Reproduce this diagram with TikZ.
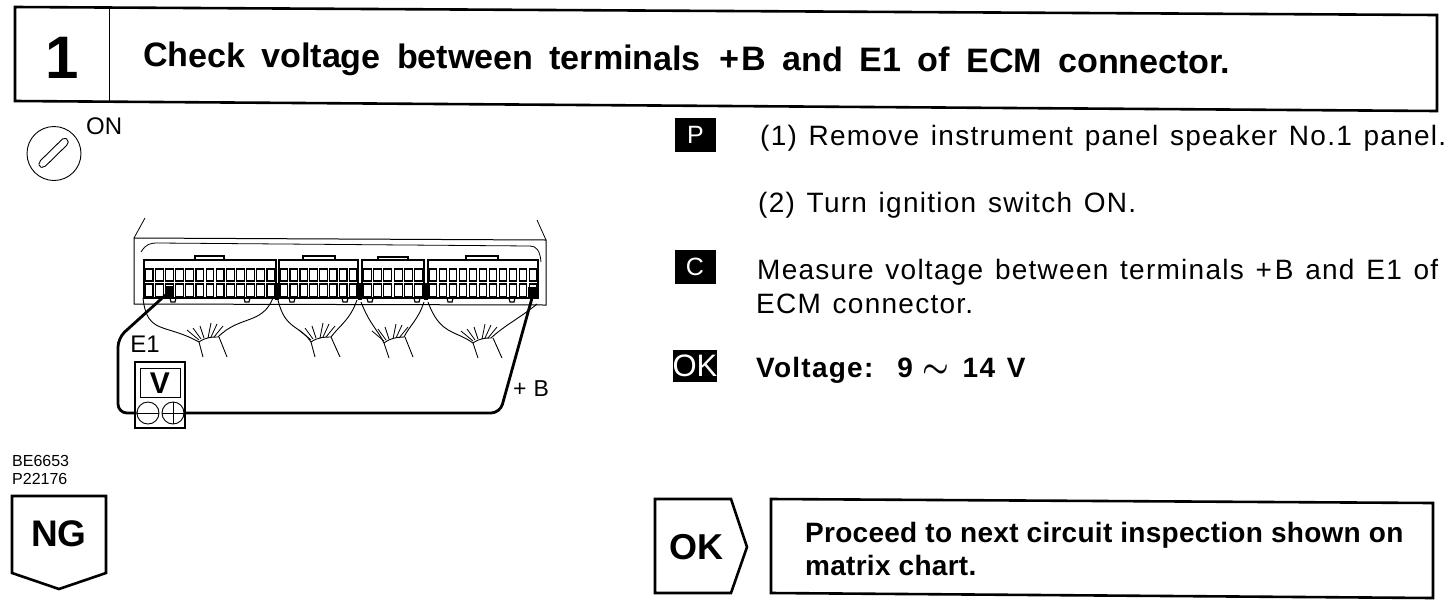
\documentclass[tikz,border=0pt]{standalone}
\usepackage{fontspec}
\setmainfont{Liberation Sans}
\newfontfamily\widefont[LetterSpace=4.5,WordSpace=1.3]{Liberation Sans}
\newfontfamily\slightfont[LetterSpace=1]{Liberation Sans}
\tikzset{
  x=1pt,y=-1pt,
  heavy/.style={draw=black,line width=2.6pt,line join=miter},
  medium/.style={draw=black,line width=1.6pt},
  thin line/.style={draw=black,line width=1pt},
  wire/.style={draw=black,line width=2.8pt,rounded corners=9pt},
  cable/.style={draw=black,line width=0.9pt},
  lead/.style={draw=black,line width=0.8pt},
  tagbox/.style={fill=black,text=white,inner sep=0pt,font=\fontsize{25}{25}\selectfont},
  body/.style={anchor=west,inner sep=0pt,font=\widefont\fontsize{28}{30}\selectfont,text=black},
  bodybold/.style={anchor=west,inner sep=0pt,font=\widefont\fontsize{28}{30}\selectfont\bfseries,text=black},
}
\begin{document}
\begin{tikzpicture}
\useasboundingbox (0,0) rectangle (1456,606);
% header
\draw[heavy] (15,7) -- (1437,15) -- (1437,111) -- (15,101) -- cycle;
\draw[thin line] (109,8) -- (109,101);
\node[inner sep=0pt,font=\fontsize{60}{60}\selectfont\bfseries] (num) at (62,58) {1};
\node[anchor=west,inner sep=0pt,rotate=-0.38,font=\fontsize{34}{36}\selectfont\bfseries] (title) at (143,58) {Check\hspace{7pt} voltage\hspace{7pt} between\hspace{7pt} terminals\hspace{9pt} +\hspace{3pt}B\hspace{7pt} and\hspace{7pt} E1\hspace{7pt} of\hspace{7pt} ECM\hspace{7pt} connector.};
% ignition symbol
\draw[line width=0.9pt] (54,153.5) circle (27);
\draw[line width=0.9pt,rounded corners=2pt] (39,162) -- (64,137.5) -- (68.5,140) -- (68,144) -- (44,167.5) -- (39,167) -- cycle;
\node[anchor=west,inner sep=0pt,font=\fontsize{24}{24}\selectfont] (on) at (86,126) {ON};
% ECM case
\draw[thin line] (134,304) -- (134,238) -- (546,240) -- (546,305) -- cycle;
\draw[lead] (134,238) -- (145,218);
\draw[lead] (546,240) -- (537,220);
\draw[lead] (141,252) .. controls (146,244) and (150,243) .. (158,243) -- (530,246) .. controls (536,246) and (540,250) .. (541,262);
% connector blocks
\foreach \xa/\xb/\n in {144/276/13,279/358/8,362/424/6,428/538/11}{
  \draw[medium] (\xa,298) -- (\xa,260) -- (\xb,260) -- (\xb,298) -- cycle;
  \pgfmathsetmacro{\w}{(\xb-\xa)/\n}
  \foreach \i in {1,...,\n}{
    \pgfmathsetmacro{\xl}{\xa+(\i-1)*\w+1.2}
    \pgfmathsetmacro{\xr}{\xa+\i*\w-1.2}
    \draw[line width=1.2pt] (\xl,269) rectangle (\xr,281);
    \draw[line width=1.2pt] (\xl,284) rectangle (\xr,296.5);
  }
}
% connector tabs
\draw[medium] (195,260) -- (195,256) -- (224,256) -- (224,260);
\draw[medium] (303,260) -- (303,256) -- (335,256) -- (335,260);
\draw[medium] (378,260) -- (378,257) -- (408,257) -- (408,260);
\draw[medium] (466,260) -- (466,256) -- (498,256) -- (498,260);
\foreach \bx in {173,247,292,345,370,417,450,512}{
  \draw[line width=1.2pt] (\bx-3,298) -- (\bx-2,302) -- (\bx+2,302) -- (\bx+3,298);
}
% terminals
\coordinate (e1t) at (170,291);
\coordinate (bt) at (532,292);
\fill (165,286) rectangle (173,298);
\fill (528,287) rectangle (538,298);
\fill (275,283) rectangle (279,300);
\fill (358,283) rectangle (362,300);
\fill (424,283) rectangle (428,300);
% harness bundles
\draw[cable] (143,298) .. controls (147,335) and (165,323) .. (199,342);
\draw[cable] (273,298) .. controls (262,325) and (240,315) .. (218,337);
\draw[cable] (199,342) .. controls (206,337) and (212,337) .. (218,337);
\draw[cable] (199,342) -- (203,357); \draw[cable] (219,337) -- (227,357);
\draw[cable] (278,300) .. controls (285,330) and (300,325) .. (311,342);
\draw[cable] (357,300) .. controls (350,320) and (340,325) .. (331,337);
\draw[cable] (311,342) .. controls (318,337) and (325,337) .. (331,337);
\draw[cable] (311,342) -- (315,357); \draw[cable] (331,337) -- (340,357);
\draw[cable] (361,302) .. controls (370,325) and (378,330) .. (384,343);
\draw[cable] (424,302) .. controls (418,320) and (410,325) .. (404,337);
\draw[cable] (384,343) .. controls (390,338) and (398,337) .. (404,337);
\draw[cable] (384,343) -- (389,358); \draw[cable] (405,337) -- (413,357);
\draw[cable] (428,302) .. controls (440,335) and (455,330) .. (473,343);
\draw[cable] (537,304) .. controls (520,318) and (505,325) .. (491,338);
\draw[cable] (473,343) .. controls (480,338) and (486,338) .. (491,338);
\draw[cable] (473,343) -- (478,358); \draw[cable] (493,338) -- (502,358);
\foreach \bx/\by in {199/342,311/342,384/343,473/343}{
  \draw[lead] (\bx,\by) ++(0,-2) -- ++(-12,-10);
  \draw[lead] (\bx,\by) ++(2,-3) -- ++(-8,-11);
  \draw[lead] (\bx,\by) ++(5,-4) -- ++(-4,-12);
  \draw[lead] (\bx,\by) ++(9,-4) -- ++(3,-15);
  \draw[lead] (\bx,\by) ++(12,-5) -- ++(6,-13);
  \draw[lead] (\bx,\by) ++(15,-5) -- ++(9,-11);
}
% voltmeter
\draw[thin line,line width=1.3pt] (135,362) rectangle (185,428);
\draw[thin line] (140,368) rectangle (180,397);
\node[inner sep=0pt,font=\fontsize{30}{30}\selectfont\bfseries] (vm) at (160,383) {V};
\node[draw,circle,line width=0.9pt,minimum size=22pt,inner sep=0pt] (neg) at (148,413) {};
\node[draw,circle,line width=0.9pt,minimum size=22pt,inner sep=0pt] (pos) at (173,413) {};
\draw[lead] (neg.west) -- (neg.east);
\draw[lead] (pos.west) -- (pos.east);
\draw[lead] (pos.north) -- (pos.south);
% wires
\draw[wire] (neg.west) -- (118,413) -- (118,338) -- (e1t);
\draw[wire] (pos.east) -- (500,413) -- (532,298);
\node[inner sep=0pt,font=\fontsize{24}{24}\selectfont] (e1) at (145,344) {E1};
\node[anchor=west,inner sep=0pt,font=\fontsize{23}{23}\selectfont] (bl) at (513,389) {+\hspace{7pt}B};
% codes
\node[anchor=west,inner sep=0pt,font=\fontsize{16}{16}\selectfont] (c1) at (12,461) {BE6653};
\node[anchor=west,inner sep=0pt,font=\fontsize{16}{16}\selectfont] (c2) at (12,479) {P22176};
% NG
\draw[heavy] (12,496) -- (106,496) -- (106,573) -- (59,589) -- (12,573) -- cycle;
\node[inner sep=0pt,font=\fontsize{37}{37}\selectfont\bfseries] (ng) at (59,534) {NG};
% right side tags
\node[tagbox,minimum width=41pt,minimum height=34pt] (p) at (695.5,135) {P};
\node[tagbox,minimum width=41pt,minimum height=34pt] (c) at (695,267) {C};
\node[tagbox,minimum width=44pt,minimum height=32pt,font=\fontsize{31}{31}\selectfont] (ok) at (695,366) {OK};
\node[body] (t1) at (760,138) {(1) Remove instrument panel speaker No.1 panel.};
\node[body] (t2) at (758,205) {(2) Turn ignition switch ON.};
\node[body] (t3) at (757,272) {Measure voltage between terminals +\hspace{3pt}B and E1 of};
\node[body] (t4) at (756,304) {ECM connector.};
\node[bodybold] (t5) at (756,370) {Voltage:\hspace{24pt}9\hspace{10pt}\scalebox{1.2}[1.3]{\boldmath$\sim$}\hspace{13pt}14 V};
% OK arrow
\draw[heavy] (655,499) -- (731,499) -- (747,547) -- (731,593) -- (655,593) -- cycle;
\node[inner sep=0pt,font=\fontsize{36}{36}\selectfont\bfseries] (okb) at (696,547) {OK};
% result box
\draw[heavy] (771,499) -- (1433,503) -- (1433,598) -- (771,593) -- cycle;
\node[anchor=west,align=left,inner sep=0pt,font=\slightfont\fontsize{28}{33}\selectfont\bfseries] (res) at (805,549) {Proceed to next circuit inspection shown on\\matrix chart.};
\end{tikzpicture}
\end{document}
